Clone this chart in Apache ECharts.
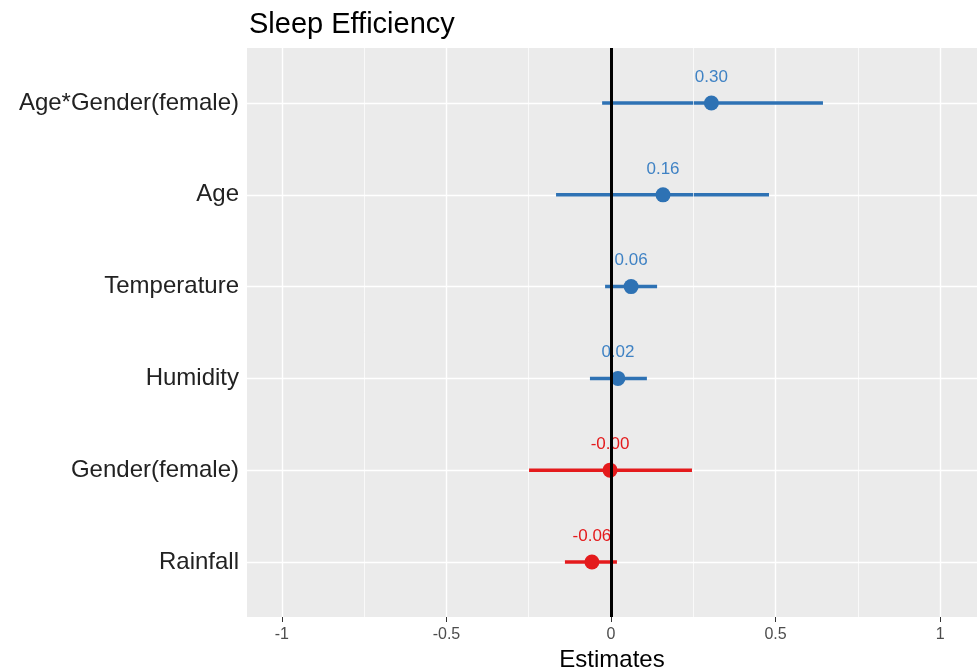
<!DOCTYPE html>
<html>
<head>
<meta charset="utf-8">
<script src="https://cdn.jsdelivr.net/npm/echarts@6/dist/echarts.min.js"></script>
<style>
  html, body { margin: 0; padding: 0; background: #fff; }
  #chart { width: 977px; height: 671px; }
</style>
</head>
<body>
<div id="chart"></div>
<script>
// 森林图 - Sleep Efficiency
const categories = ['Age*Gender(female)', 'Age', 'Temperature', 'Humidity', 'Gender(female)', 'Rainfall']
const estimates = [0.305, 0.158, 0.061, 0.021, -0.003, -0.058]
const ciLow = [-0.027, -0.167, -0.018, -0.064, -0.249, -0.140]
const ciHigh = [0.644, 0.480, 0.140, 0.109, 0.246, 0.018]
const estLabels = ['0.30', '0.16', '0.06', '0.02', '-0.00', '-0.06']
const xTicks = [-1, -0.5, 0, 0.5, 1]
const xMinor = [-0.75, -0.25, 0.25, 0.75]

const n = categories.length
const yPos = categories.map((c, i) => n - i)
const colorOf = v => (v < 0 ? '#E41A1C' : '#2E72B4')
const labelColorOf = v => (v < 0 ? '#E41A1C' : '#3F82C4')

const barData = categories.map((c, i) => ({
  value: [ciLow[i], ciHigh[i], yPos[i]],
  itemStyle: { color: colorOf(estimates[i]) }
}))
const pointData = categories.map((c, i) => ({
  value: [estimates[i], yPos[i]],
  itemStyle: { color: colorOf(estimates[i]), opacity: 1 },
  label: { color: labelColorOf(estimates[i]), formatter: estLabels[i] }
}))

const chart = echarts.init(document.getElementById('chart'))
const option = {
  backgroundColor: '#fff',
  animation: false,
  title: {
    text: 'Sleep Efficiency',
    left: 244,
    top: 5,
    textStyle: { fontFamily: 'Liberation Sans', fontSize: 29, fontWeight: 'normal', color: '#000' }
  },
  grid: {
    left: 247,
    right: 0,
    top: 48,
    bottom: 54,
    outerBoundsMode: 'none',
    show: true,
    backgroundColor: '#EBEBEB',
    borderWidth: 0
  },
  xAxis: {
    type: 'value',
    min: -1.106,
    max: 1.112,
    name: 'Estimates',
    nameLocation: 'middle',
    nameGap: 31,
    nameTextStyle: { fontFamily: 'Liberation Sans', fontSize: 24, color: '#000' },
    axisLine: { show: false },
    axisTick: { show: true, customValues: xTicks, length: 5, lineStyle: { color: '#333', width: 1 } },
    axisLabel: {
      customValues: xTicks,
      margin: 10,
      fontFamily: 'Liberation Sans',
      fontSize: 16,
      color: '#4D4D4D',
      formatter: v => String(v)
    },
    splitLine: { show: true, lineStyle: { color: '#fff', width: 1.4 } }
  },
  yAxis: {
    type: 'value',
    min: 0.4,
    max: n + 0.6,
    axisLine: { show: false },
    axisTick: { show: true, customValues: yPos, length: 5, lineStyle: { color: '#333', width: 1 } },
    axisLabel: {
      customValues: yPos,
      margin: 8,
      fontFamily: 'Liberation Sans',
      fontSize: 24,
      color: '#222',
      formatter: v => categories[n - Math.round(v)]
    },
    splitLine: { show: true, lineStyle: { color: '#fff', width: 1.4 } }
  },
  series: [
    {
      type: 'custom',
      z: 3,
      data: barData,
      renderItem: (params, api) => {
        const p1 = api.coord([api.value(0), api.value(2)])
        const p2 = api.coord([api.value(1), api.value(2)])
        return {
          type: 'line',
          shape: { x1: p1[0], y1: p1[1], x2: p2[0], y2: p2[1] },
          style: { stroke: api.visual('color'), lineWidth: 3.5 }
        }
      },
      markLine: {
        silent: true,
        symbol: 'none',
        label: { show: false },
        data: xMinor.map(v => ({ xAxis: v, lineStyle: { color: '#fff', width: 0.7, type: 'solid' } }))
          .concat([{ xAxis: 0, lineStyle: { color: '#000', width: 3, type: 'solid' } }])
      }
    },
    {
      type: 'scatter',
      z: 4,
      symbolSize: 15,
      data: pointData,
      label: {
        show: true,
        position: 'top',
        distance: 10,
        fontFamily: 'Liberation Sans',
        fontSize: 17
      }
    }
  ]
}
chart.setOption(option)
</script>
</body>
</html>
